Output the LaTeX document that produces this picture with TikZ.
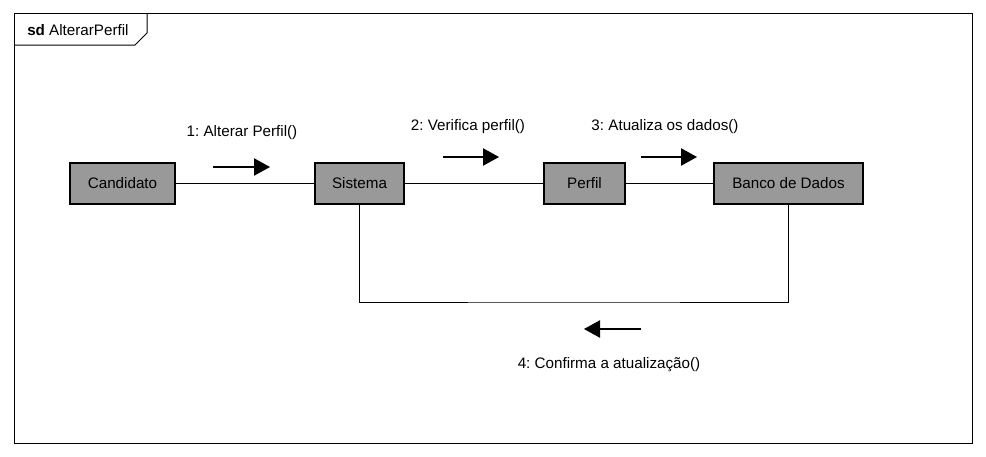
\documentclass[tikz,border=0pt]{standalone}
\usepackage{fontspec}
\setmainfont{Liberation Sans}
\usetikzlibrary{arrows.meta}
\frenchspacing
\begin{document}
\begin{tikzpicture}[x=0.75pt, y=-0.75pt, font=\fontsize{11.4}{13}\selectfont]
    % Styles
    \tikzstyle{obj} = [rectangle, draw, line width=2.2pt, fill=black!40,
        minimum height=30.75pt, inner sep=0pt]
    \tikzstyle{link} = [line width=0.75pt]
    \tikzstyle{msg} = [line width=0.9pt, -{Triangle[length=12pt,width=13pt]}]
    \tikzstyle{lbl} = [inner sep=0pt]

    \useasboundingbox (0,0) rectangle (986,457);

    % Frame
    \draw[line width=0.75pt] (14,13) rectangle (972,443);
    \draw[line width=0.75pt] (14,45) -- (135,45) -- (147,33) -- (147,13);
    \node[lbl, anchor=west] (frame) at (27,30) {\textbf{sd} AlterarPerfil};

    % Nodes
    \node [obj, minimum width=78.75pt] (candidato) at (122.5,183.5) {Candidato};
    \node [obj, minimum width=66.75pt] (sistema) at (359.5,183.5) {Sistema};
    \node [obj, minimum width=60.75pt] (perfil) at (584.5,183.5) {Perfil};
    \node [obj, minimum width=111.75pt] (banco) at (788.5,183.5) {Banco de Dados};
    \coordinate (ret) at (574,302);

    % Links
    \draw [link] (candidato) -- (sistema);
    \draw [link] (sistema) -- (perfil);
    \draw [link] (perfil) -- (banco);
    \draw [link] (sistema.south) |- (ret) -| (banco.south);

    % Messages
    \coordinate (m1a) at (213,167); \coordinate (m1b) at (270,167);
    \coordinate (m2a) at (443,157); \coordinate (m2b) at (499,157);
    \coordinate (m3a) at (641,157); \coordinate (m3b) at (697,157);
    \coordinate (m4a) at (641,329); \coordinate (m4b) at (584,329);
    \draw [msg] (m1a) -- (m1b);
    \draw [msg] (m2a) -- (m2b);
    \draw [msg] (m3a) -- (m3b);
    \draw [msg] (m4a) -- (m4b);
    \node [lbl] (l1) at (242,133) {1: Alterar Perfil()};
    \node [lbl] (l2) at (468,127) {2: Verifica perfil()};
    \node [lbl] (l3) at (665,127) {3: Atualiza os dados()};
    \node [lbl] (l4) at (609,365) {4: Confirma a atualização()};
\end{tikzpicture}
\end{document}
